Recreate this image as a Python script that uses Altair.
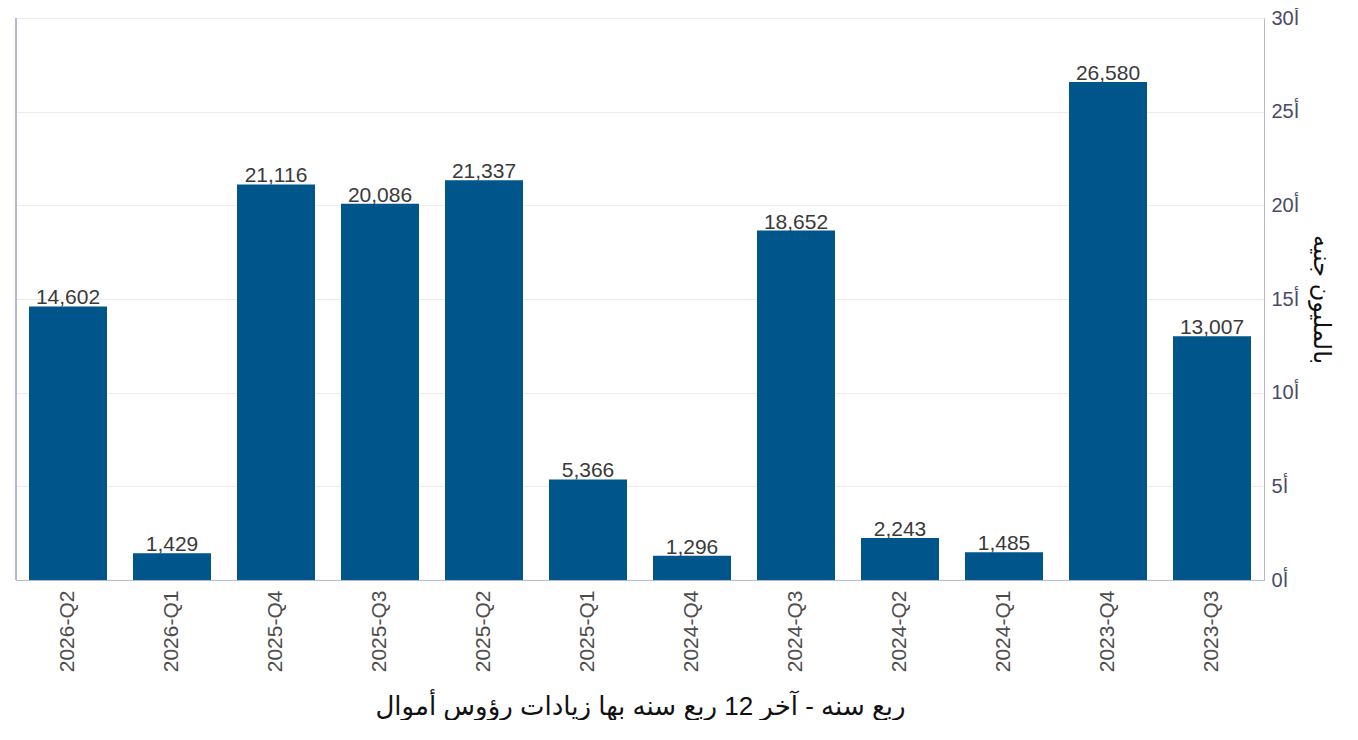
import altair as alt
import pandas as pd

quarters = ["2026-Q2", "2026-Q1", "2025-Q4", "2025-Q3", "2025-Q2", "2025-Q1",
            "2024-Q4", "2024-Q3", "2024-Q2", "2024-Q1", "2023-Q4", "2023-Q3"]
values = [14602, 1429, 21116, 20086, 21337, 5366, 1296, 18652, 2243, 1485, 26580, 13007]
y_ticks = [0, 5000, 10000, 15000, 20000, 25000, 30000]

x_title = "ربع سنه - آخر 12 ربع سنه بها زيادات رؤوس أموال"
y_title = "بالمليون جنيه"

df = pd.DataFrame({"quarter": quarters, "value": values})

FONT = "Liberation Sans, Arial, DejaVu Sans"
W, H = 1248, 562

x = alt.X("quarter:N", sort=quarters, title=x_title,
          scale=alt.Scale(paddingInner=0.25, paddingOuter=0.125),
          axis=alt.Axis(labelAngle=-90, labelFontSize=21, labelColor="#4d4d4d",
                        labelFont=FONT, titleFont=FONT, titleFontSize=26,
                        titleFontWeight="normal", titleColor="#111111",
                        titlePadding=22, ticks=False, domainColor="#b8b8cc",
                        labelPadding=10))
y = alt.Y("value:Q", title=y_title,
          scale=alt.Scale(domain=[0, 30000], nice=False),
          axis=alt.Axis(orient="right", values=y_ticks,
                        labelExpr="(datum.value/1000) + 'أ'",
                        labelFontSize=20, labelColor="#4a4a68", labelFont=FONT,
                        titleFont=FONT, titleFontSize=24, titleFontWeight="normal",
                        titleColor="#111111", titleAngle=90, titlePadding=10,
                        ticks=False, domainColor="#b8b8cc", gridColor="#ebebf0",
                        labelPadding=7))

bars = alt.Chart(df).mark_bar(color="#00568a").encode(x=x, y=y)
labels = alt.Chart(df).mark_text(baseline="bottom", dy=2, fontSize=21,
                                 color="#3a3a3a", font=FONT).encode(
    x=alt.X("quarter:N", sort=quarters),
    y="value:Q",
    text=alt.Text("value:Q", format=","))
left_line = alt.Chart(df).mark_rule(color="#b8b8cc").encode(
    x=alt.value(0), y=alt.value(0), y2=alt.value(H))

chart = alt.layer(bars, labels, left_line).properties(
    width=W, height=H,
    padding={"left": 7, "top": 0, "right": 6, "bottom": 0}
).configure_view(stroke=None).configure(background="white")

chart.save("out.html", embed_options={"renderer": "svg", "actions": False})
